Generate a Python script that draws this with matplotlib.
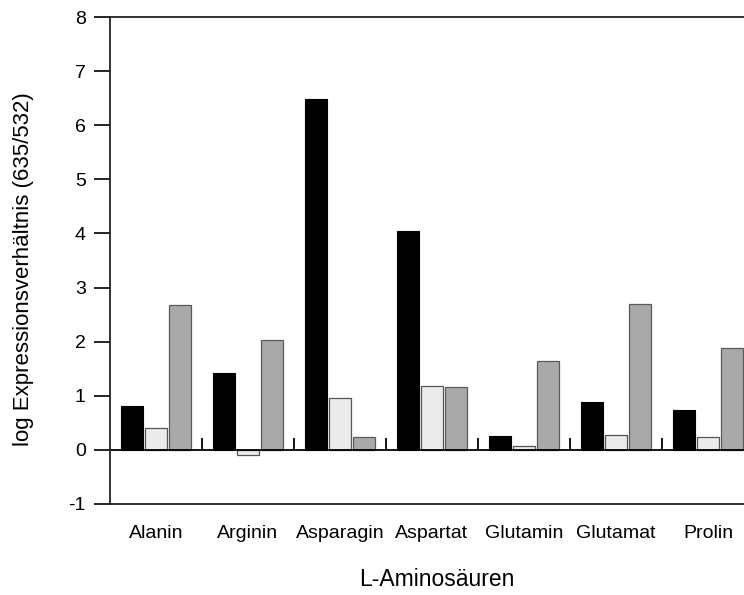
import numpy as np
import matplotlib
matplotlib.use("Agg")
import matplotlib.pyplot as plt

plt.rcParams['font.family'] = ['Liberation Sans', 'DejaVu Sans']

aminos = ['Alanin', 'Arginin', 'Asparagin', 'Aspartat', 'Glutamin', 'Glutamat', 'Prolin']
black_vals = [0.81, 1.43, 6.48, 4.04, 0.25, 0.89, 0.73]
light_vals = [0.41, -0.10, 0.95, 1.18, 0.07, 0.28, 0.23]
gray_vals = [2.67, 2.04, 0.24, 1.17, 1.64, 2.70, 1.89]
yticks = [-1, 0, 1, 2, 3, 4, 5, 6, 7, 8]

W, H = 744, 595
fig = plt.figure(figsize=(W / 100, H / 100), dpi=100)
# axes runs past the right edge of the figure, like the cropped original
ax = fig.add_axes([110 / W, 1 - 504 / H, 644 / W, (504 - 17) / H])

x = np.arange(len(aminos)) + 0.5
bw = 0.24
off = 0.265
ax.bar(x - off, black_vals, bw, color='black', edgecolor='black', linewidth=0.8)
ax.bar(x, light_vals, bw, color='#ebebeb', edgecolor='#555555', linewidth=0.9)
ax.bar(x + off, gray_vals, bw, color='#a9a9a9', edgecolor='#5a5a5a', linewidth=0.9)

ax.axhline(0, color='black', lw=1.3)
# group separators on the zero line
ax.vlines(np.arange(1, len(aminos)), 0, 0.22, color='black', lw=1.3)

ax.set_xlim(0, len(aminos))
ax.set_ylim(-1, 8)
ax.set_yticks(yticks)
ax.set_yticklabels([str(t) for t in yticks], fontsize=14)
ax.set_xticks(x)
ax.set_xticklabels(aminos, fontsize=14)
ax.tick_params(axis='x', length=0, pad=15)
ax.tick_params(axis='y', direction='out', length=11.5, width=1.2, pad=6)

ax.spines['right'].set_visible(False)
for s in ['left', 'top', 'bottom']:
    ax.spines[s].set_linewidth(1.3)
    ax.spines[s].set_color('#222222')

fig.text(24 / W, 1 - 269 / H, 'log Expressionsverhältnis (635/532)',
         rotation=90, ha='center', va='center', fontsize=16)
fig.text(437 / W, 1 - 580 / H, 'L-Aminosäuren', ha='center', va='center', fontsize=16.5)

fig.savefig('out.png', dpi=100)
